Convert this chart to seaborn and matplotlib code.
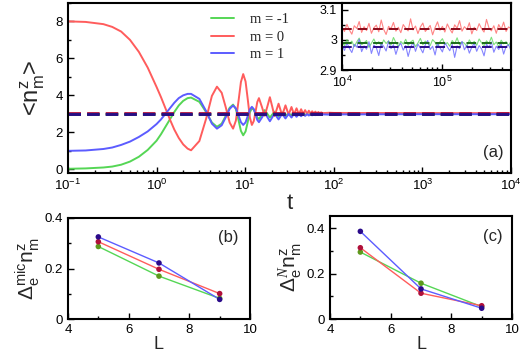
import numpy as np
import matplotlib
matplotlib.use("Agg")
import matplotlib.pyplot as plt
from matplotlib.ticker import LogLocator, MultipleLocator, FixedLocator, FixedFormatter, NullFormatter
import seaborn as sns

# ---- panel (a): <n_m^z>(t) ----
t_main = [0.1, 0.158, 0.251, 0.316, 0.398, 0.501, 0.631, 0.794, 1.0, 1.122,
          1.259, 1.413, 1.585, 1.778, 1.995, 2.239, 2.45,
          3.04, 3.63, 4.21, 4.8, 5.43, 6.05, 6.68, 7.3,
          7.85, 8.4, 8.95, 9.5, 10.1, 10.7, 11.3, 11.9,
          12.5, 13.1, 13.7, 14.3, 15.45, 16.6, 17.8, 19.0,
          20.2, 21.4, 22.6, 23.8, 24.95, 26.1, 27.3, 28.5, 29.7, 30.9,
          33.3, 35.6, 38.0, 40.4,
          42.8, 45.1, 47.5, 50.0, 52.3, 54.6, 57.0, 59.5, 62.0, 64.5,
          67.0, 69.5, 72.0, 75.0, 90.0, 100.0, 1000.0, 10000.0]

n_m0 = [8.0, 7.97, 7.85, 7.7, 7.45, 7.0, 6.35, 5.5, 4.45, 3.9,
        3.3, 2.7, 2.15, 1.7, 1.35, 1.12, 1.03,
        1.53, 2.75, 3.97, 4.47, 4.14, 3.335, 2.53, 2.2,
        2.63, 3.675, 4.72, 5.15, 4.75, 3.775, 2.80, 2.4,
        2.61, 3.125, 3.64, 3.85, 3.375, 2.9, 3.4, 3.9,
        3.39, 2.88, 3.215, 3.55, 3.235, 2.92, 3.19, 3.46, 3.205, 2.95,
        3.37, 2.97, 3.3, 2.98,
        3.25, 3.0, 3.2, 3.0, 3.17, 3.01, 3.14, 3.02, 3.12, 3.02,
        3.1, 3.03, 3.08, 3.04, 3.06, 3.05, 3.04, 3.04]

n_m1 = [1.0, 1.02, 1.1, 1.18, 1.32, 1.5, 1.75, 2.05, 2.45, 2.7,
        3.0, 3.3, 3.6, 3.85, 4.0, 4.08, 4.08,
        3.81, 3.14, 2.47, 2.2, 2.38, 2.825, 3.27, 3.45,
        3.30, 2.925, 2.55, 2.4, 2.54, 2.89, 3.24, 3.38,
        3.26, 2.965, 2.67, 2.55, 2.8, 3.05, 2.825, 2.6,
        2.81, 3.02, 2.86, 2.7, 2.85, 3.0, 2.875, 2.75, 2.875, 3.0,
        2.8, 3.0, 2.84, 2.99,
        2.87, 2.99, 2.89, 2.98, 2.91, 2.98, 2.92, 2.98, 2.93, 2.97,
        2.94, 2.97, 2.95, 2.97, 2.96, 2.97, 2.98, 2.98]

n_mm1 = [0.03, 0.05, 0.1, 0.15, 0.25, 0.42, 0.68, 1.05, 1.55, 1.9,
         2.3, 2.7, 3.1, 3.45, 3.7, 3.85, 3.88,
         3.65, 3.09, 2.53, 2.3, 2.47, 2.9, 3.33, 3.5,
         3.26, 2.67, 2.08, 1.84, 2.05, 2.57, 3.09, 3.3,
         3.22, 3.01, 2.80, 2.72, 2.96, 3.2, 3.0, 2.8,
         2.96, 3.12, 2.985, 2.85, 2.965, 3.08, 2.98, 2.88, 2.965, 3.05,
         2.9, 3.03, 2.92, 3.02,
         2.93, 3.01, 2.94, 3.01, 2.95, 3.0, 2.96, 3.0, 2.96, 2.99,
         2.97, 2.99, 2.98, 2.99, 2.98, 2.99, 2.99, 2.99]

# diagonal-ensemble values (dashed lines)
diag_m0, diag_mm1, diag_m1 = 3.036, 2.989, 2.978

# ---- inset: long-time fluctuations ----
inset_m0 = [3.041, 3.028, 3.052, 3.033, 3.019, 3.047, 3.038, 3.061, 3.025, 3.044,
            3.031, 3.055, 3.022, 3.040, 3.049, 3.027, 3.066, 3.035, 3.018, 3.045,
            3.037, 3.058, 3.029, 3.042, 3.024, 3.051, 3.039, 3.030, 3.070, 3.033,
            3.046, 3.021, 3.043, 3.056, 3.028, 3.038, 3.048, 3.017, 3.041, 3.060,
            3.032, 3.045, 3.026, 3.053, 3.036, 3.023, 3.050, 3.039, 3.064, 3.029,
            3.044, 3.034, 3.057, 3.020, 3.042, 3.031, 3.054, 3.037, 3.026, 3.068,
            3.040, 3.030, 3.047, 3.022, 3.051, 3.035, 3.059, 3.028, 3.043, 3.038]
inset_mm1 = [2.992, 2.981, 3.001, 2.987, 2.996, 2.978, 2.993, 3.006, 2.984, 2.990,
             2.998, 2.975, 2.989, 3.003, 2.985, 2.994, 2.980, 3.000, 2.988, 2.997,
             2.983, 3.008, 2.991, 2.979, 2.995, 2.986, 3.002, 2.982, 2.993, 2.999,
             2.977, 2.990, 3.005, 2.984, 2.996, 2.988, 2.981, 3.001, 2.992, 2.976,
             2.994, 3.004, 2.985, 2.991, 2.979, 2.998, 2.987, 3.007, 2.983, 2.993,
             2.989, 2.978, 3.000, 2.986, 2.995, 2.982, 3.003, 2.990, 2.980, 2.997,
             2.988, 3.009, 2.984, 2.993, 2.977, 2.999, 2.987, 2.994, 2.981, 2.996]
inset_m1 = [2.982, 2.965, 2.990, 2.972, 2.958, 2.985, 2.976, 3.002, 2.961, 2.980,
            2.969, 2.994, 2.955, 2.983, 2.974, 2.948, 2.987, 2.979, 2.963, 2.996,
            2.971, 2.984, 2.952, 2.978, 2.989, 2.966, 2.981, 2.945, 2.975, 2.992,
            2.962, 2.986, 2.973, 2.957, 2.984, 2.998, 2.968, 2.979, 2.950, 2.988,
            2.974, 2.960, 2.991, 2.977, 2.964, 2.985, 2.942, 2.980, 2.971, 2.995,
            2.967, 2.983, 2.956, 2.976, 2.989, 2.962, 2.981, 2.970, 2.947, 2.986,
            2.975, 2.993, 2.959, 2.979, 2.968, 2.987, 2.953, 2.978, 2.984, 2.965]

# ---- panels (b) and (c) ----
L = [5, 7, 9]
mic_mm1 = [0.287, 0.170, 0.082]
mic_m0 = [0.306, 0.197, 0.101]
mic_m1 = [0.325, 0.222, 0.078]
dN_mm1 = [0.295, 0.158, 0.055]
dN_m0 = [0.314, 0.114, 0.059]
dN_m1 = [0.386, 0.133, 0.048]

GREEN, RED, BLUE = "#55d655", "#ff5c5c", "#5c5cff"
DGREEN, DRED, DBLUE = "#5e9a1c", "#b0103a", "#2a0a8a"

sns.set_style("ticks")
plt.rcParams["font.family"] = ["Liberation Sans", "DejaVu Sans"]
plt.rcParams["mathtext.fontset"] = "custom"
plt.rcParams["mathtext.rm"] = "Liberation Sans"
plt.rcParams["mathtext.it"] = "Liberation Sans:italic"
plt.rcParams["mathtext.cal"] = "Liberation Serif:italic"
plt.rcParams["axes.linewidth"] = 1.5
plt.rcParams["axes.edgecolor"] = "black"

fig = plt.figure(figsize=(5.23, 3.59), dpi=100)
ax = fig.add_axes([0.130, 0.518, 0.847, 0.474])
axin = fig.add_axes([0.654, 0.805, 0.323, 0.187])
axb = fig.add_axes([0.130, 0.111, 0.348, 0.282])
axc = fig.add_axes([0.631, 0.111, 0.348, 0.287])


def style_ticks(a, size=9.5):
    a.tick_params(which="both", direction="in", top=False, right=False,
                  labelsize=size, width=1.0, colors="black")
    a.tick_params(which="major", length=4.5)
    a.tick_params(which="minor", length=2.5)


# panel (a)
sns.lineplot(x=t_main, y=n_mm1, ax=ax, color=GREEN, lw=1.4, sort=False, label="m = -1")
sns.lineplot(x=t_main, y=n_m0, ax=ax, color=RED, lw=1.4, sort=False, label="m = 0")
sns.lineplot(x=t_main, y=n_m1, ax=ax, color=BLUE, lw=1.4, sort=False, label="m = 1")
for v, c in [(diag_m0, DRED), (diag_mm1, "#1a6a1a"), (diag_m1, DBLUE)]:
    ax.axhline(v, color=c, lw=2.0, dashes=(4.5, 2.2))
ax.set_xscale("log")
ax.set_xlim(0.1, 1e4)
ax.set_ylim(-0.2, 9.0)
ax.yaxis.set_major_locator(MultipleLocator(2))
ax.yaxis.set_minor_locator(MultipleLocator(1))
ax.xaxis.set_major_locator(LogLocator(base=10, numticks=10))
ax.xaxis.set_minor_locator(LogLocator(base=10, subs=np.arange(2, 10), numticks=20))
ax.xaxis.set_minor_formatter(NullFormatter())
style_ticks(ax)
ax.set_xlabel("t", fontsize=16, labelpad=0)
ax.set_ylabel(r"<n$^{\rm z}_{\rm m}$>", fontsize=17, labelpad=6)
ax.legend(loc="upper left", bbox_to_anchor=(0.30, 1.0), frameon=False,
          prop={"family": "Liberation Serif", "size": 10.5}, handlelength=1.6,
          handletextpad=1.1, labelspacing=0.3, borderaxespad=0.3)
ax.text(0.96, 0.12, "(a)", transform=ax.transAxes, ha="center", va="center", fontsize=12)

# inset
t_in = np.geomspace(1.0e4, 4.9e5, len(inset_m0))
sns.lineplot(x=t_in, y=inset_m0, ax=axin, color=RED, lw=0.8, alpha=0.75, sort=False)
sns.lineplot(x=t_in, y=inset_mm1, ax=axin, color=GREEN, lw=0.8, alpha=0.75, sort=False)
sns.lineplot(x=t_in, y=inset_m1, ax=axin, color=BLUE, lw=0.8, alpha=0.75, sort=False)
for v, c in [(diag_m0, "#8b0a1a"), (diag_mm1, "#1a6a1a"), (diag_m1, DBLUE)]:
    axin.axhline(v, color=c, lw=1.4, dashes=(5, 3))
axin.set_xscale("log")
axin.set_xlim(1e4, 4.9e5)
axin.set_ylim(2.9, 3.123)
axin.yaxis.set_major_locator(FixedLocator([2.9, 3.0, 3.1]))
axin.yaxis.set_major_formatter(FixedFormatter(["2.9", "3", "3.1"]))
axin.yaxis.set_minor_locator(FixedLocator([2.95, 3.05]))
axin.xaxis.set_major_locator(LogLocator(base=10, numticks=10))
axin.xaxis.set_minor_locator(LogLocator(base=10, subs=np.arange(2, 10), numticks=20))
axin.xaxis.set_minor_formatter(NullFormatter())
style_ticks(axin, 9)
axin.set_facecolor("white")

# panels (b), (c)
for a, ys, ylab in [(axb, (mic_mm1, mic_m0, mic_m1),
                     r"$\Delta_{\rm e}^{\rm mic}{\rm n}_{\rm m}^{\rm z}$"),
                    (axc, (dN_mm1, dN_m0, dN_m1),
                     r"$\Delta_{\rm e}^{\mathcal{N}}{\rm n}_{\rm m}^{\rm z}$")]:
    for y, lc, mc in zip(ys, (GREEN, RED, BLUE), (DGREEN, DRED, DBLUE)):
        sns.lineplot(x=L, y=y, ax=a, color=lc, lw=1.0, sort=False)
        sns.scatterplot(x=L, y=y, ax=a, color=mc, s=16, edgecolor="none", zorder=3)
    a.set_xlim(4, 10)
    a.xaxis.set_major_locator(MultipleLocator(2))
    a.xaxis.set_minor_locator(MultipleLocator(1))
    a.yaxis.set_major_locator(FixedLocator([0, 0.2, 0.4]))
    a.yaxis.set_major_formatter(FixedFormatter(["0", "0.2", "0.4"]))
    a.yaxis.set_minor_locator(FixedLocator([0.1, 0.3]))
    style_ticks(a)
    a.set_xlabel("L", fontsize=13, labelpad=0)
    a.set_ylabel(ylab, fontsize=15, labelpad=2)

axb.set_ylim(0, 0.4)
axc.set_ylim(0, 0.453)
axb.text(0.88, 0.81, "(b)", transform=axb.transAxes, ha="center", va="center", fontsize=12)
axc.text(0.895, 0.80, "(c)", transform=axc.transAxes, ha="center", va="center", fontsize=12)

fig.savefig("out.png", dpi=100)
